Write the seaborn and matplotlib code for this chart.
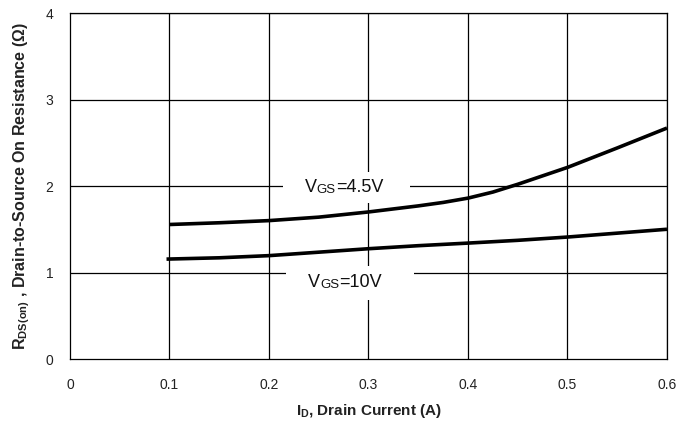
import numpy as np
import pandas as pd
import matplotlib
matplotlib.use("Agg")
import matplotlib.pyplot as plt
from matplotlib.patches import Rectangle
import seaborn as sns

# Drain current (A) and on-resistance (ohm) for two gate drives
id_45 = [0.10, 0.15, 0.20, 0.25, 0.30, 0.35, 0.375, 0.40, 0.425, 0.45, 0.50, 0.55, 0.60]
rds_45 = [1.555, 1.575, 1.60, 1.64, 1.70, 1.77, 1.81, 1.86, 1.93, 2.02, 2.215, 2.44, 2.67]
id_10 = [0.097, 0.15, 0.20, 0.25, 0.30, 0.35, 0.40, 0.45, 0.50, 0.55, 0.60]
rds_10 = [1.155, 1.17, 1.195, 1.235, 1.275, 1.31, 1.34, 1.372, 1.41, 1.455, 1.50]

x_ticks = [0, 0.1, 0.2, 0.3, 0.4, 0.5, 0.6]
x_tick_labels = ["0", "0.1", "0.2", "0.3", "0.4", "0.5", "0.6"]
y_ticks = [0, 1, 2, 3, 4]

df = pd.concat([
    pd.DataFrame({"ID": id_45, "RDS": rds_45, "VGS": "4.5V"}),
    pd.DataFrame({"ID": id_10, "RDS": rds_10, "VGS": "10V"}),
])

sns.set_style("white")
plt.rcParams["font.family"] = ["Liberation Sans", "DejaVu Sans"]
plt.rcParams["mathtext.fontset"] = "custom"
plt.rcParams["mathtext.rm"] = "Liberation Sans"
plt.rcParams["mathtext.bf"] = "Liberation Sans:bold"

fig = plt.figure(figsize=(6.77, 4.24), dpi=100)
ax = fig.add_axes([0.1034, 0.1533, 0.8818, 0.816])

sns.lineplot(data=df, x="ID", y="RDS", hue="VGS", palette=["black", "black"],
             linewidth=2.6, legend=False, ax=ax, zorder=5, sort=True)
for ln in ax.get_lines():
    ln.set_solid_joinstyle("round")
    ln.set_solid_capstyle("butt")

ax.set_xlim(0, 0.6)
ax.set_ylim(0, 4)
ax.set_xticks(x_ticks)
ax.set_xticklabels(x_tick_labels)
ax.set_yticks(y_ticks)

# grid drawn as plain lines so label boxes can sit over them
for xv in x_ticks[1:]:
    ax.axvline(xv, color="black", lw=0.9, zorder=1)
for yv in y_ticks[1:]:
    ax.axhline(yv, color="black", lw=0.9, zorder=1)

for s in ax.spines.values():
    s.set_color("black")
    s.set_linewidth(0.9)
    s.set_visible(True)

ax.tick_params(axis="both", direction="out", length=4, width=0.9, color="black",
               labelsize=10, labelcolor="#222222")
ax.tick_params(axis="x", pad=10)
ax.tick_params(axis="y", pad=8)

ax.set_xlabel(r"$\mathbf{I_D}$, Drain Current (A)", fontsize=11, fontweight="bold",
              color="#222222", labelpad=7)
ax.set_ylabel(r"$\mathbf{R_{DS(on)}}$ , Drain-to-Source On Resistance ($\mathbf{\Omega}$)",
              fontsize=11.5, fontweight="bold", color="#222222", labelpad=10)


def vgs_label(xc, yc, value, box_w=0.128, box_h=0.36):
    # white box breaks the grid behind the label
    ax.add_patch(Rectangle((xc - box_w / 2, yc - box_h / 2), box_w, box_h,
                           facecolor="white", edgecolor="none", zorder=2))
    t1 = ax.text(xc - 0.042, yc, "V", fontsize=13, va="center", ha="left",
                 color="#111111", zorder=3)
    t2 = ax.annotate("GS", xy=(1, 0), xycoords=t1, fontsize=9.5, va="bottom", ha="left",
                     color="#111111", zorder=3)
    ax.annotate("=" + value, xy=(1, 0), xycoords=t2, fontsize=13, va="bottom",
                ha="left", color="#111111", zorder=3)


vgs_label(0.278, 1.98, "4.5V")
vgs_label(0.2815, 0.88, "10V", box_h=0.40)

fig.savefig("out.png", dpi=100, facecolor="white")
